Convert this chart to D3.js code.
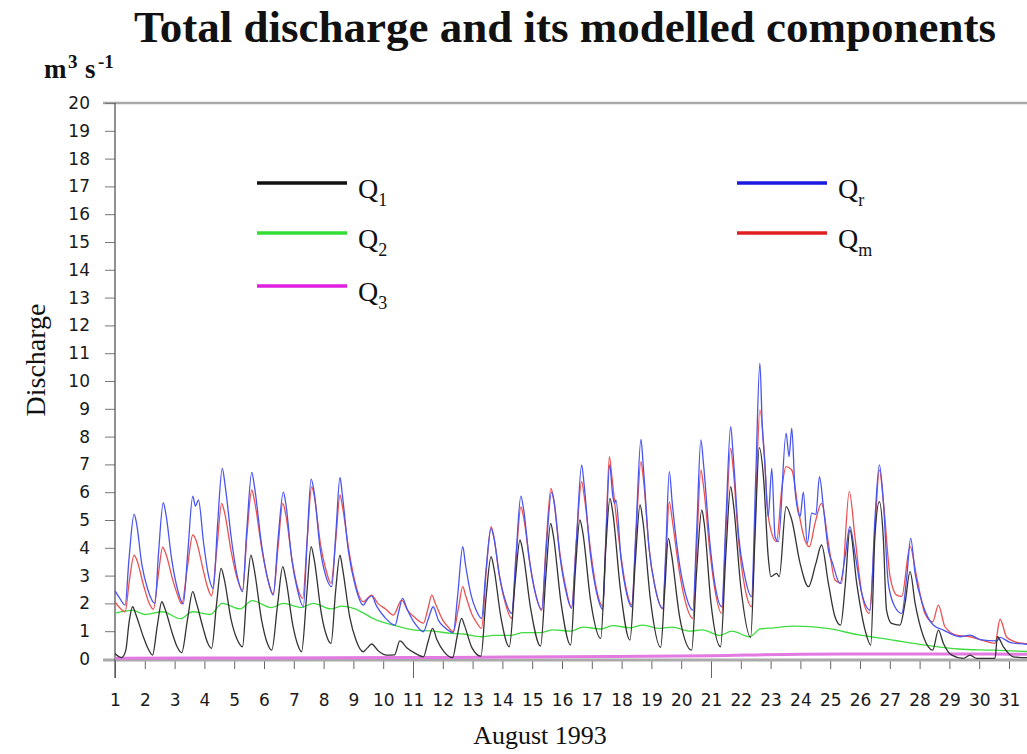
<!DOCTYPE html>
<html>
<head>
<meta charset="utf-8">
<script src="https://cdn.jsdelivr.net/npm/d3@7"></script>
<style>
  body { margin: 0; background: #fff; }
  svg { display: block; }
</style>
</head>
<body>
<div id="chart"></div>
<script>
// days of August 1993 and discharge ticks
const dayTicks = [1, 2, 3, 4, 5, 6, 7, 8, 9, 10, 11, 12, 13, 14, 15, 16, 17, 18, 19, 20, 21, 22, 23, 24, 25, 26, 27, 28, 29, 30, 31]
const yTicks = [0, 1, 2, 3, 4, 5, 6, 7, 8, 9, 10, 11, 12, 13, 14, 15, 16, 17, 18, 19, 20]
const longTicks = [1, 11, 21]

// measured discharge Qr, [day, m3/s]
const qr = [
  [1.0, 2.45], [1.15, 2.2], [1.34, 1.94], [1.47, 3.6], [1.64, 5.2], [1.72, 4.9], [1.9, 3.4], [2.1, 2.5],
  [2.34, 2.0], [2.46, 3.8], [2.62, 5.62], [2.71, 5.2], [2.9, 3.6], [3.1, 2.5], [3.29, 1.98], [3.44, 3.8],
  [3.61, 5.86], [3.7, 5.5], [3.8, 5.72], [3.97, 4.2], [4.12, 3.1], [4.3, 2.54], [4.44, 4.8], [4.6, 6.86],
  [4.7, 6.2], [4.92, 4.2], [5.1, 3.0], [5.28, 2.42], [5.42, 4.6], [5.59, 6.71], [5.68, 6.2], [5.92, 4.1],
  [6.12, 2.9], [6.31, 2.3], [6.47, 4.3], [6.65, 6.0], [6.73, 5.6], [6.93, 3.6], [7.12, 2.5], [7.32, 1.88],
  [7.45, 4.3], [7.58, 6.47], [7.67, 6.1], [7.88, 4.0], [8.07, 3.0], [8.27, 2.6], [8.41, 4.5], [8.55, 6.53],
  [8.63, 5.9], [8.83, 3.9], [9.07, 2.6], [9.33, 1.94], [9.47, 2.15], [9.61, 2.27], [9.78, 1.9], [10.05, 1.5],
  [10.4, 1.22], [10.52, 1.7], [10.65, 2.18], [10.8, 1.8], [11.05, 1.3], [11.35, 0.98], [11.5, 1.4], [11.68, 1.88],
  [11.85, 1.4], [12.05, 1.15], [12.35, 0.95], [12.5, 2.3], [12.67, 4.04], [12.76, 3.4], [12.95, 2.3], [13.12, 1.75],
  [13.3, 1.46], [13.45, 3.2], [13.62, 4.7], [13.71, 4.4], [13.9, 3.0], [14.1, 2.1], [14.31, 1.64], [14.46, 3.8],
  [14.62, 5.86], [14.71, 5.4], [14.9, 3.6], [15.1, 2.4], [15.32, 1.79], [15.46, 3.8], [15.65, 6.0], [15.73, 5.7],
  [15.93, 3.7], [16.12, 2.5], [16.32, 1.82], [16.48, 4.2], [16.66, 6.98], [16.74, 6.3], [16.94, 3.9], [17.14, 2.5],
  [17.37, 1.79], [17.48, 4.5], [17.6, 6.98], [17.7, 5.9], [17.76, 5.6], [17.81, 5.72], [17.98, 3.6], [18.14, 2.5],
  [18.34, 1.88], [18.48, 4.6], [18.65, 7.9], [18.73, 6.9], [18.92, 4.0], [19.12, 2.6], [19.38, 1.82], [19.48, 3.8],
  [19.6, 6.74], [19.7, 5.6], [19.93, 3.5], [20.13, 2.4], [20.39, 1.76], [20.52, 4.6], [20.66, 7.88], [20.75, 7.0],
  [20.96, 4.2], [21.13, 2.7], [21.36, 1.88], [21.5, 5.0], [21.66, 8.36], [21.74, 7.4], [21.93, 4.4], [22.13, 3.0],
  [22.36, 2.24], [22.5, 6.5], [22.64, 10.64], [22.72, 8.4], [22.81, 7.0], [22.92, 5.12], [23.04, 6.86], [23.15, 4.4],
  [23.26, 4.22], [23.52, 8.12], [23.62, 7.28], [23.71, 8.3], [23.82, 6.08], [23.99, 5.12], [24.1, 6.0], [24.23, 4.16],
  [24.38, 5.25], [24.52, 5.2], [24.64, 6.56], [24.77, 5.48], [24.94, 3.92], [25.08, 3.44], [25.33, 2.72], [25.5, 3.68],
  [25.66, 4.76], [25.83, 3.8], [26.06, 2.36], [26.34, 1.76], [26.5, 5.0], [26.65, 6.98], [26.78, 5.72], [26.95, 2.72],
  [27.17, 1.88], [27.4, 1.64], [27.57, 2.96], [27.7, 4.34], [27.85, 3.08], [28.13, 1.88], [28.46, 1.22], [28.8, 1.04],
  [29.36, 0.8], [29.69, 0.86], [30.03, 0.7], [30.59, 0.65], [30.7, 0.78], [31.03, 0.6], [31.59, 0.53], [32.0, 0.5]
]

// modelled discharge Qm
const qm = [
  [1.0, 2.05], [1.15, 1.85], [1.34, 1.7], [1.48, 2.8], [1.64, 3.74], [1.72, 3.6], [1.97, 2.6], [2.15, 2.0],
  [2.29, 1.79], [2.45, 3.0], [2.6, 4.02], [2.7, 3.8], [2.95, 2.8], [3.1, 2.3], [3.24, 1.98], [3.43, 3.3],
  [3.61, 4.46], [3.71, 4.3], [3.96, 3.2], [4.1, 2.6], [4.24, 2.27], [4.42, 4.0], [4.58, 5.6], [4.67, 5.3],
  [4.91, 3.8], [5.1, 2.9], [5.28, 2.48], [5.43, 4.5], [5.59, 6.08], [5.68, 5.7], [5.92, 4.0], [6.12, 2.9],
  [6.31, 2.34], [6.47, 4.0], [6.63, 5.6], [6.73, 5.2], [6.95, 3.5], [7.12, 2.6], [7.3, 2.18], [7.45, 4.3],
  [7.6, 6.2], [7.68, 5.9], [7.9, 4.1], [8.08, 3.2], [8.25, 2.72], [8.41, 4.3], [8.55, 5.9], [8.63, 5.5],
  [8.85, 3.9], [9.07, 2.7], [9.33, 2.06], [9.61, 2.3], [9.82, 2.0], [10.08, 1.8], [10.34, 1.58], [10.62, 2.12],
  [10.82, 1.75], [11.05, 1.5], [11.35, 1.29], [11.5, 1.8], [11.63, 2.3], [11.75, 2.0], [12.0, 1.4], [12.18, 1.15],
  [12.35, 0.98], [12.52, 1.8], [12.67, 2.6], [12.76, 2.3], [12.98, 1.6], [13.14, 1.3], [13.3, 1.1], [13.46, 3.2],
  [13.62, 4.76], [13.71, 4.4], [13.9, 3.0], [14.1, 2.0], [14.31, 1.46], [14.46, 3.6], [14.62, 5.47], [14.71, 5.1],
  [14.93, 3.4], [15.1, 2.4], [15.32, 1.75], [15.46, 4.0], [15.63, 6.14], [15.71, 5.8], [15.93, 3.8], [16.12, 2.6],
  [16.32, 1.85], [16.48, 4.2], [16.66, 6.38], [16.74, 5.9], [16.96, 3.9], [17.14, 2.6], [17.37, 1.9], [17.48, 4.6],
  [17.59, 7.28], [17.67, 6.6], [17.8, 5.3], [17.98, 3.7], [18.14, 2.6], [18.34, 1.95], [18.48, 4.4], [18.65, 7.1],
  [18.73, 6.5], [18.92, 4.0], [19.12, 2.6], [19.38, 1.8], [19.48, 3.5], [19.6, 5.65], [19.7, 5.0], [19.93, 3.2],
  [20.13, 2.1], [20.39, 1.46], [20.52, 4.0], [20.66, 6.8], [20.75, 6.2], [20.96, 3.9], [21.13, 2.5], [21.36, 1.64],
  [21.5, 4.6], [21.66, 7.58], [21.74, 6.9], [21.93, 4.2], [22.13, 2.6], [22.36, 1.88], [22.5, 5.5], [22.64, 8.96],
  [22.78, 7.52], [22.89, 5.48], [23.04, 4.52], [23.2, 4.22], [23.37, 6.08], [23.52, 6.92], [23.71, 6.8], [23.93, 5.36],
  [24.15, 4.28], [24.3, 4.04], [24.49, 4.88], [24.71, 5.6], [24.94, 4.16], [25.16, 2.84], [25.38, 2.72], [25.64, 6.02],
  [25.83, 4.4], [26.06, 2.36], [26.31, 1.64], [26.5, 4.6], [26.65, 6.8], [26.8, 5.48], [27.01, 2.96], [27.23, 2.3],
  [27.4, 2.25], [27.68, 4.04], [27.9, 2.96], [28.18, 1.64], [28.44, 1.34], [28.63, 1.94], [28.85, 1.16], [29.24, 0.86],
  [29.69, 0.8], [30.14, 0.66], [30.53, 0.56], [30.7, 1.43], [30.92, 0.79], [31.26, 0.6], [31.59, 0.55], [32.0, 0.5]
]

// modelled component Q1
const q1 = [
  [1.0, 0.2], [1.22, 0.05], [1.36, 0.3], [1.47, 1.3], [1.59, 1.88], [1.7, 1.6], [1.95, 0.8], [2.12, 0.35],
  [2.26, 0.14], [2.42, 1.2], [2.57, 2.06], [2.68, 1.8], [2.93, 0.9], [3.08, 0.45], [3.24, 0.23], [3.43, 1.4],
  [3.61, 2.42], [3.71, 2.1], [3.96, 1.1], [4.1, 0.6], [4.24, 0.38], [4.41, 2.0], [4.56, 3.26], [4.66, 2.9],
  [4.9, 1.4], [5.1, 0.7], [5.28, 0.44], [5.41, 2.2], [5.56, 3.74], [5.66, 3.3], [5.92, 1.4], [6.1, 0.6],
  [6.26, 0.32], [6.46, 2.0], [6.63, 3.32], [6.73, 2.9], [6.97, 1.2], [7.12, 0.55], [7.26, 0.26], [7.44, 2.4],
  [7.58, 4.04], [7.68, 3.6], [7.93, 1.6], [8.08, 0.9], [8.25, 0.56], [8.4, 2.4], [8.55, 3.74], [8.63, 3.3],
  [8.88, 1.5], [9.08, 0.7], [9.33, 0.26], [9.47, 0.4], [9.61, 0.54], [9.83, 0.3], [10.12, 0.14], [10.38, 0.15],
  [10.56, 0.65], [10.8, 0.4], [11.05, 0.22], [11.35, 0.08], [11.5, 0.6], [11.66, 1.1], [11.8, 0.7], [12.05, 0.25],
  [12.33, 0.05], [12.48, 0.8], [12.63, 1.46], [12.73, 1.2], [12.98, 0.4], [13.28, 0.1], [13.45, 2.2], [13.62, 3.68],
  [13.71, 3.3], [13.95, 1.5], [14.23, 0.44], [14.43, 2.8], [14.59, 4.28], [14.68, 3.9], [14.95, 1.8], [15.28, 0.46],
  [15.46, 3.0], [15.62, 4.88], [15.7, 4.5], [15.97, 2.0], [16.29, 0.5], [16.45, 3.2], [16.6, 5.0], [16.69, 4.6],
  [16.96, 2.1], [17.3, 0.74], [17.46, 3.8], [17.61, 5.78], [17.7, 5.3], [17.96, 2.5], [18.28, 0.68], [18.46, 3.5],
  [18.62, 5.54], [18.71, 5.0], [18.96, 2.2], [19.31, 0.42], [19.45, 2.5], [19.57, 4.34], [19.67, 3.8], [19.95, 1.5],
  [20.35, 0.32], [20.52, 3.2], [20.69, 5.36], [20.77, 4.9], [21.0, 2.0], [21.32, 0.44], [21.5, 3.8], [21.66, 6.2],
  [21.75, 5.6], [22.0, 2.6], [22.33, 0.78], [22.48, 4.5], [22.62, 7.6], [22.76, 6.56], [22.92, 3.68], [23.01, 2.96],
  [23.2, 3.08], [23.29, 2.96], [23.52, 5.48], [23.71, 5.0], [23.99, 3.44], [24.27, 2.6], [24.52, 3.44], [24.71, 4.1],
  [24.94, 2.72], [25.16, 1.52], [25.35, 1.22], [25.5, 2.6], [25.66, 4.64], [25.89, 2.72], [26.17, 1.04], [26.36, 0.5],
  [26.5, 4.4], [26.65, 5.66], [26.78, 4.4], [26.89, 1.76], [27.06, 1.28], [27.34, 1.22], [27.51, 2.0], [27.68, 3.14],
  [27.85, 2.0], [28.13, 0.8], [28.44, 0.32], [28.63, 1.04], [28.8, 0.56], [29.08, 0.14], [29.47, 0.02], [29.69, 0.14],
  [29.91, 0.02], [30.53, 0.02], [30.61, 0.8], [30.81, 0.44], [31.14, 0.08], [31.59, 0.05], [32.0, 0.05]
]

// modelled component Q2
const q2 = [
  [1.0, 1.65], [1.6, 1.75], [2.0, 1.6], [2.6, 1.7], [3.2, 1.45], [3.6, 1.7], [4.2, 1.6], [4.6, 2.0],
  [5.2, 1.8], [5.6, 2.1], [6.25, 1.85], [6.65, 2.0], [7.25, 1.85], [7.65, 2.0], [8.25, 1.8], [8.6, 1.9],
  [9.0, 1.82], [9.78, 1.4], [10.4, 1.2], [11.0, 1.05], [11.7, 1.0], [12.3, 0.92], [12.7, 0.9], [13.3, 0.8],
  [13.7, 0.85], [14.3, 0.85], [14.7, 0.95], [15.3, 0.95], [15.7, 1.05], [16.3, 1.0], [16.7, 1.15], [17.3, 1.08],
  [17.7, 1.2], [18.3, 1.12], [18.7, 1.22], [19.3, 1.1], [19.7, 1.15], [20.3, 1.0], [20.7, 1.05], [21.3, 0.85],
  [21.7, 1.0], [22.3, 0.8], [22.65, 1.08], [23.1, 1.12], [23.8, 1.18], [24.9, 1.1], [26.0, 0.86], [26.5, 0.78],
  [27.1, 0.68], [28.2, 0.5], [29.3, 0.36], [30.4, 0.32], [31.6, 0.27], [32.0, 0.25]
]

// modelled component Q3
const q3 = [[1, 0.03], [6, 0.04], [11, 0.05], [16, 0.08], [21, 0.12], [24, 0.17], [28, 0.18], [32, 0.17]]

const width = 1027
const height = 754

const svg = d3
  .select('#chart')
  .append('svg')
  .attr('width', width)
  .attr('height', height)

const serif = '"Liberation Serif", "Times New Roman", serif'
const sans = '"DejaVu Sans", Verdana, sans-serif'

const x = d3.scaleLinear().domain([1, 31]).range([115, 1009])
const y = d3.scaleLinear().domain([0, 20]).range([659, 103])

// frame line at the top
svg.append('line')
  .attr('x1', 103).attr('x2', width)
  .attr('y1', y(20)).attr('y2', y(20))
  .attr('stroke', '#a8a8a8').attr('stroke-width', 2.5)

// y axis
const yAxis = svg.append('g')
  .attr('transform', `translate(${x(1)},0)`)
  .call(d3.axisLeft(y).tickValues(yTicks).tickSize(10).tickPadding(15).tickSizeOuter(0))
yAxis.select('.domain').remove()
yAxis.selectAll('line').attr('stroke', '#777')
yAxis.selectAll('text')
  .attr('font-family', sans)
  .attr('font-size', 17)
  .attr('fill', '#1a1a1a')

// x axis
const xAxis = svg.append('g')
  .attr('transform', `translate(0,${y(0) + 2})`)
  .call(d3.axisBottom(x).tickValues(dayTicks).tickSize(8).tickSizeOuter(0))
xAxis.select('.domain').remove()
xAxis.selectAll('.tick line')
  .attr('stroke', '#666')
  .attr('y2', d => (longTicks.includes(d) ? 17 : 8))
xAxis.selectAll('text')
  .attr('y', 45)
  .attr('dy', 0)
  .attr('font-family', sans)
  .attr('font-size', 17)
  .attr('fill', '#1a1a1a')

svg.append('line')
  .attr('x1', 103).attr('x2', width)
  .attr('y1', y(0) + 1).attr('y2', y(0) + 1)
  .attr('stroke', '#aaa').attr('stroke-width', 3)

svg.append('line')
  .attr('x1', x(1)).attr('x2', x(1))
  .attr('y1', y(20)).attr('y2', y(0) + 19)
  .attr('stroke', '#555').attr('stroke-width', 1.3)

// series
const line = d3.line()
  .x(d => x(d[0]))
  .y(d => y(d[1]))
  .curve(d3.curveMonotoneX)

const series = [
  { data: q3, color: '#e27ae2', w: 3 },
  { data: q2, color: '#3fdc3f', w: 1.3 },
  { data: qm, color: '#ee5050', w: 1.3 },
  { data: qr, color: '#4a55f0', w: 1.3 },
  { data: q1, color: '#333', w: 1.3 }
]

svg.append('g')
  .selectAll('path')
  .data(series)
  .enter()
  .append('path')
  .attr('d', d => line(d.data))
  .attr('fill', 'none')
  .attr('stroke', d => d.color)
  .attr('stroke-width', d => d.w)
  .attr('stroke-linejoin', 'round')

// legend
const legend = [
  { sub: '1', color: '#111', lx: 257, ly: 183 },
  { sub: '2', color: '#33dd33', lx: 257, ly: 233 },
  { sub: '3', color: '#e020e0', lx: 257, ly: 286 },
  { sub: 'r', color: '#1a1ae0', lx: 737, ly: 183 },
  { sub: 'm', color: '#e02020', lx: 737, ly: 233 }
]

const lg = svg.append('g')
  .selectAll('g')
  .data(legend)
  .enter()
  .append('g')
  .attr('transform', d => `translate(${d.lx},${d.ly})`)

lg.append('line')
  .attr('x1', 0).attr('x2', 90)
  .attr('stroke', d => d.color)
  .attr('stroke-width', 3.5)

const lt = lg.append('text')
  .attr('x', 101)
  .attr('y', 15)
  .attr('font-family', serif)
  .attr('font-size', 28)
  .attr('fill', '#111')
lt.append('tspan').text('Q')
lt.append('tspan')
  .attr('dy', 8)
  .attr('font-size', 18)
  .text(d => d.sub)

// titles
svg.append('text')
  .attr('x', 565)
  .attr('y', 42)
  .attr('text-anchor', 'middle')
  .attr('font-family', serif)
  .attr('font-weight', 'bold')
  .attr('font-size', 45)
  .attr('fill', '#111')
  .text('Total discharge and its modelled components')

const unit = svg.append('text')
  .attr('y', 78)
  .attr('font-family', serif)
  .attr('font-weight', 'bold')
  .attr('font-size', 27)
  .attr('fill', '#111')
unit.append('tspan').attr('x', 44).text('m')
unit.append('tspan').attr('x', 68).attr('dy', -10).attr('font-size', 19).text('3')
unit.append('tspan').attr('x', 85).attr('dy', 10).text('s')
unit.append('tspan').attr('x', 98).attr('dy', -10).attr('font-size', 19).text('-1')

svg.append('text')
  .attr('transform', 'translate(45,360) rotate(-90)')
  .attr('text-anchor', 'middle')
  .attr('font-family', serif)
  .attr('font-size', 28)
  .attr('fill', '#111')
  .text('Discharge')

svg.append('text')
  .attr('x', 540)
  .attr('y', 744)
  .attr('text-anchor', 'middle')
  .attr('font-family', serif)
  .attr('font-size', 26)
  .attr('fill', '#111')
  .text('August 1993')
</script>
</body>
</html>
